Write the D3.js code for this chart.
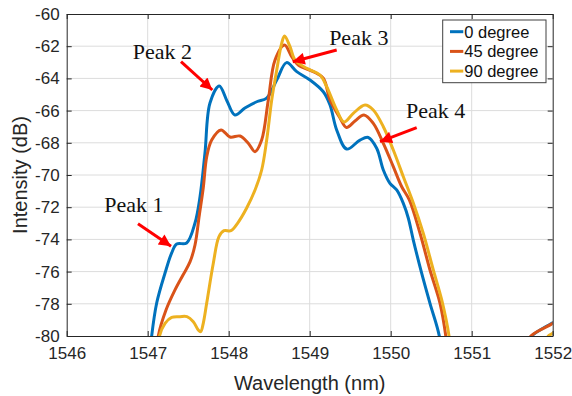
<!DOCTYPE html>
<html>
<head>
<meta charset="utf-8">
<script src="https://cdn.jsdelivr.net/npm/d3@7"></script>
<style>
  body { margin: 0; background: #fff; }
  svg { display: block; font-family: Arial, "Liberation Sans", sans-serif; }
</style>
</head>
<body>
<svg id="chart" width="572" height="396"></svg>
<script>
// curve data (wavelength nm, intensity dB)
const wl0 = [1547.02, 1547.049, 1547.111, 1547.214, 1547.296, 1547.358, 1547.481, 1547.584, 1547.646, 1547.707, 1547.769, 1547.884, 1547.979, 1548.077, 1548.2, 1548.346, 1548.469, 1548.593, 1548.714, 1548.84, 1549.004, 1549.168, 1549.251, 1549.333, 1549.457, 1549.621, 1549.723, 1549.827, 1549.909, 1549.991, 1550.074, 1550.156, 1550.217, 1550.279, 1550.383, 1550.485, 1550.6, 1550.63];
const db0 = [-81.6, -80.0, -77.95, -76.09, -74.84, -74.29, -74.22, -72.98, -71.35, -68.63, -65.53, -64.47, -65.4, -66.27, -65.84, -65.45, -65.22, -64.1, -63.02, -63.58, -64.1, -64.83, -65.65, -67.2, -68.39, -67.83, -67.67, -68.34, -69.69, -70.52, -70.93, -71.76, -72.67, -74.04, -76.11, -77.97, -80.0, -81.6];
const wl0b = [1551.70, 1551.741, 1552.0, 1552.05];
const db0b = [-80.4, -80.0, -79.17, -79.0];

const wl45 = [1547.11, 1547.131, 1547.226, 1547.337, 1547.436, 1547.522, 1547.584, 1547.637, 1547.686, 1547.728, 1547.79, 1547.905, 1548.016, 1548.14, 1548.242, 1548.325, 1548.407, 1548.489, 1548.572, 1548.689, 1548.778, 1548.859, 1549.044, 1549.168, 1549.251, 1549.374, 1549.454, 1549.559, 1549.67, 1549.785, 1549.909, 1550.032, 1550.136, 1550.23, 1550.362, 1550.485, 1550.609, 1550.68, 1550.71];
const db45 = [-81.4, -80.0, -78.39, -77.14, -76.21, -75.4, -74.35, -72.5, -70.8, -68.88, -67.83, -67.2, -67.64, -67.58, -68.03, -68.55, -67.83, -65.34, -62.86, -61.93, -62.65, -63.17, -63.58, -63.99, -65.34, -66.46, -67.05, -66.65, -66.27, -66.79, -68.03, -69.48, -70.73, -71.55, -73.62, -75.9, -77.97, -80.0, -81.5];
const wl45b = [1551.70, 1551.731, 1552.0, 1552.05];
const db45b = [-80.4, -80.0, -79.21, -79.0];

const wl90 = [1547.13, 1547.146, 1547.214, 1547.296, 1547.399, 1547.485, 1547.563, 1547.625, 1547.654, 1547.686, 1547.728, 1547.81, 1547.88, 1547.942, 1548.028, 1548.109, 1548.222, 1548.325, 1548.407, 1548.469, 1548.531, 1548.593, 1548.654, 1548.689, 1548.757, 1548.819, 1548.963, 1549.127, 1549.21, 1549.333, 1549.423, 1549.538, 1549.683, 1549.785, 1549.909, 1550.032, 1550.156, 1550.279, 1550.402, 1550.526, 1550.63, 1550.72, 1550.75];
const db90 = [-81.0, -80.0, -79.21, -78.84, -78.8, -78.8, -79.11, -79.63, -79.73, -79.21, -77.97, -75.48, -73.83, -73.46, -73.46, -73.0, -72.05, -70.93, -69.69, -67.83, -65.34, -63.48, -61.82, -61.37, -62.03, -62.86, -63.37, -63.79, -64.52, -65.96, -66.71, -66.17, -65.65, -65.96, -67.0, -68.45, -70.11, -71.74, -73.62, -75.9, -77.76, -80.0, -81.5];
const wl90b = [1551.92, 1551.946, 1552.0, 1552.05];
const db90b = [-80.3, -80.0, -79.83, -79.6];

const seriesNames = ["0 degree", "45 degree", "90 degree"];
const seriesColors = ["#0072BD", "#D95319", "#EDB120"];

const xTicks = [1546, 1547, 1548, 1549, 1550, 1551, 1552];
const yTicks = [-80, -78, -76, -74, -72, -70, -68, -66, -64, -62, -60];

// annotations: label, text anchor point, arrow start, arrow tip (data coords)
const peakLabels = ["Peak 1", "Peak 2", "Peak 3", "Peak 4"];
const peakText = [[1546.465, -72.29], [1546.815, -62.81], [1549.24, -61.93], [1550.19, -66.48]];
const arrowFrom = [[1546.88, -73.03], [1547.411, -62.96], [1549.333, -62.24], [1550.321, -67.06]];
const arrowTo = [[1547.288, -74.42], [1547.798, -64.72], [1548.79, -62.97], [1549.868, -67.93]];

const svg = d3.select("#chart");
const margin = { left: 66.7, top: 14, right: 572 - 552.7, bottom: 396 - 336 };
const W = 572 - margin.left - margin.right;
const H = 396 - margin.top - margin.bottom;

const x = d3.scaleLinear().domain([1546, 1552]).range([0, W]);
const y = d3.scaleLinear().domain([-80, -60]).range([H, 0]);

const g = svg.append("g").attr("transform", `translate(${margin.left},${margin.top})`);

// grid
g.append("g").selectAll("line").data(xTicks.slice(1, -1)).join("line")
  .attr("x1", d => x(d)).attr("x2", d => x(d)).attr("y1", 0).attr("y2", H)
  .attr("stroke", "#dcdcdc").attr("stroke-width", 1);
g.append("g").selectAll("line").data(yTicks.slice(1, -1)).join("line")
  .attr("y1", d => y(d)).attr("y2", d => y(d)).attr("x1", 0).attr("x2", W)
  .attr("stroke", "#dcdcdc").attr("stroke-width", 1);

// curves
svg.append("clipPath").attr("id", "clip").append("rect").attr("width", W).attr("height", H);
const line = d3.line().x(d => x(d[0])).y(d => y(d[1])).curve(d3.curveCatmullRom.alpha(0.5));
const curves = [
  [d3.zip(wl0, db0), d3.zip(wl0b, db0b)],
  [d3.zip(wl45, db45), d3.zip(wl45b, db45b)],
  [d3.zip(wl90, db90), d3.zip(wl90b, db90b)]
];
const plot = g.append("g").attr("clip-path", "url(#clip)");
curves.forEach((parts, i) => {
  parts.forEach(p => {
    plot.append("path").attr("d", line(p))
      .attr("fill", "none").attr("stroke", seriesColors[i])
      .attr("stroke-width", 3).attr("stroke-linejoin", "round");
  });
});

// axes
const axisColor = "#262626";
function styleAxis(sel) {
  sel.select(".domain").attr("stroke", axisColor);
  sel.selectAll(".tick line").attr("stroke", axisColor);
  sel.selectAll(".tick text").attr("fill", axisColor).attr("font-size", 17)
    .attr("font-family", "Arial, 'Liberation Sans', sans-serif");
}
g.append("g").attr("transform", `translate(0,${H})`)
  .call(d3.axisBottom(x).tickValues(xTicks).tickFormat(d3.format("d")).tickSizeInner(-5).tickSizeOuter(0).tickPadding(11))
  .call(styleAxis);
g.append("g")
  .call(d3.axisLeft(y).tickValues(yTicks).tickFormat(d => d).tickSizeInner(-5).tickSizeOuter(0).tickPadding(7))
  .call(styleAxis);
g.append("g")
  .call(d3.axisTop(x).tickValues(xTicks).tickFormat("").tickSizeInner(-5).tickSizeOuter(0))
  .call(styleAxis);
g.append("g").attr("transform", `translate(${W},0)`)
  .call(d3.axisRight(y).tickValues(yTicks).tickFormat("").tickSizeInner(-5).tickSizeOuter(0))
  .call(styleAxis);

// axis labels
svg.append("text").attr("x", margin.left + W / 2).attr("y", 390)
  .attr("text-anchor", "middle").attr("font-size", 20).attr("fill", axisColor)
  .text("Wavelength (nm)");
svg.append("text").attr("transform", `translate(27,${margin.top + H / 2}) rotate(-90)`)
  .attr("text-anchor", "middle").attr("font-size", 20).attr("fill", axisColor)
  .text("Intensity (dB)");

// arrows + peak labels
svg.append("defs").append("marker").attr("id", "head")
  .attr("viewBox", "0 0 10 10").attr("refX", 10).attr("refY", 5)
  .attr("markerWidth", 4.5).attr("markerHeight", 4)
  .attr("markerUnits", "strokeWidth").attr("orient", "auto")
  .append("path").attr("d", "M0,0 L10,5 L0,10 Z").attr("fill", "#ff0000");
peakLabels.forEach((lab, i) => {
  g.append("line")
    .attr("x1", x(arrowFrom[i][0])).attr("y1", y(arrowFrom[i][1]))
    .attr("x2", x(arrowTo[i][0])).attr("y2", y(arrowTo[i][1]))
    .attr("stroke", "#ff0000").attr("stroke-width", 3)
    .attr("marker-end", "url(#head)");
  g.append("text").attr("x", x(peakText[i][0])).attr("y", y(peakText[i][1]))
    .attr("font-family", "'Times New Roman', 'Liberation Serif', serif")
    .attr("font-size", 22).attr("fill", "#111").text(lab);
});

// legend
const lg = svg.append("g").attr("transform", "translate(442.7,20)");
lg.append("rect").attr("width", 103.3).attr("height", 62.7)
  .attr("fill", "#fff").attr("stroke", "#404040").attr("stroke-width", 1);
seriesNames.forEach((name, i) => {
  const ry = 11.7 + i * 19.7;
  lg.append("line").attr("x1", 7.3).attr("x2", 20.6).attr("y1", ry).attr("y2", ry)
    .attr("stroke", seriesColors[i]).attr("stroke-width", 3);
  lg.append("text").attr("x", 21.5).attr("y", ry + 5.8)
    .attr("font-size", 16.5).attr("fill", "#111").text(name);
});
</script>
</body>
</html>
